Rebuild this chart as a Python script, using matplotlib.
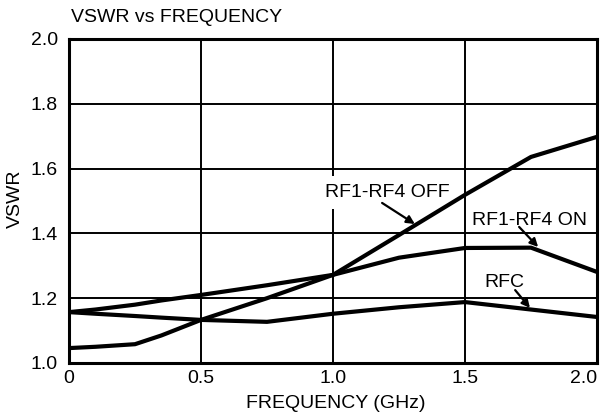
import matplotlib.pyplot as plt
import numpy as np

# frequency points (GHz)
freq = [0.0, 0.1, 0.25, 0.35, 0.5, 0.75, 1.0, 1.25, 1.5, 1.75, 2.0]

# VSWR readings
vswr_off = [1.046, 1.05, 1.058, 1.085, 1.133, 1.20, 1.272, 1.395, 1.519, 1.636, 1.698]
vswr_on = [1.157, 1.165, 1.18, 1.193, 1.21, 1.24, 1.272, 1.325, 1.355, 1.356, 1.281]
vswr_rfc = [1.157, 1.152, 1.145, 1.14, 1.133, 1.127, 1.152, 1.172, 1.188, 1.165, 1.142]

x_ticks = [0, 0.5, 1.0, 1.5, 2.0]
x_tick_labels = ["0", "0.5", "1.0", "1.5", "2.0"]
y_ticks = [1.0, 1.2, 1.4, 1.6, 1.8, 2.0]

plt.rcParams['font.family'] = ['Liberation Sans', 'DejaVu Sans']

fig = plt.figure(figsize=(6.08, 4.18), dpi=100)
ax = fig.add_axes([0.1135, 0.1316, 0.8684, 0.7751])

ax.set_xlim(0, 2.0)
ax.set_ylim(1.0, 2.0)
ax.set_xticks(x_ticks)
ax.set_xticklabels(x_tick_labels)
ax.get_xticklabels()[-1].set_horizontalalignment("right")
ax.set_yticks(y_ticks)
ax.set_yticklabels([f"{v:.1f}" for v in y_ticks])
ax.tick_params(length=0, labelsize=14)
ax.tick_params(axis="y", pad=8)
ax.tick_params(axis="x", pad=5)
ax.grid(True, color="black", linewidth=1.4)
ax.set_axisbelow(True)
for sp in ax.spines.values():
    sp.set_linewidth(2.2)

for ys in (vswr_off, vswr_on, vswr_rfc):
    ax.plot(freq, ys, color="black", linewidth=3.0, solid_capstyle="butt", zorder=3)

# curve labels (white box hides the grid behind them)
ax.text(1.205, 1.526, "RF1-RF4 OFF", fontsize=14, ha="center", va="center",
        bbox=dict(facecolor="white", edgecolor="none", pad=6), zorder=2.5)
ax.text(1.746, 1.44, "RF1-RF4 ON", fontsize=14, ha="center", va="center",
        bbox=dict(facecolor="white", edgecolor="none", pad=1), zorder=2.5)
ax.text(1.65, 1.248, "RFC", fontsize=14, ha="center", va="center",
        bbox=dict(facecolor="white", edgecolor="none", pad=1), zorder=2.5)

arrow = dict(arrowstyle="-|>", color="black", lw=1.6,
             shrinkA=0, shrinkB=0, mutation_scale=12)
ax.annotate("", xy=(1.31, 1.429), xytext=(1.186, 1.494), arrowprops=arrow, zorder=4)
ax.annotate("", xy=(1.777, 1.358), xytext=(1.705, 1.42), arrowprops=arrow, zorder=4)
ax.annotate("", xy=(1.746, 1.17), xytext=(1.69, 1.225), arrowprops=arrow, zorder=4)

fig.text(336 / 608, 1 - 404 / 418, "FREQUENCY (GHz)", fontsize=14,
         ha="center", va="center")
fig.text(15 / 608, 1 - 199 / 418, "VSWR", fontsize=14, rotation=90,
         ha="center", va="center")
fig.text(71 / 608, 1 - 17.5 / 418, "VSWR vs FREQUENCY", fontsize=14,
         ha="left", va="center")

plt.savefig("out.png", dpi=100)
plt.close()
